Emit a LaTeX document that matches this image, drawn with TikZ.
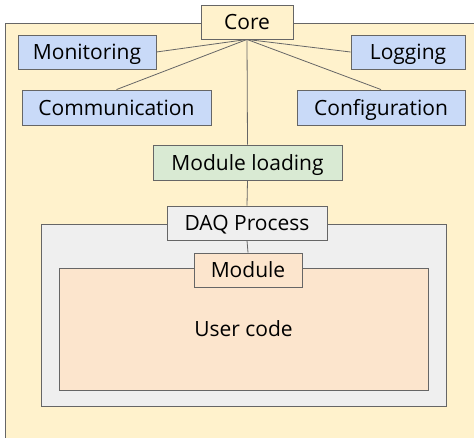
\documentclass[tikz,border=0pt]{standalone}
\usepackage{fontspec}
\setmainfont{Open Sans}
\usepackage{xcolor}
\definecolor{cLine}{HTML}{666666}
\definecolor{cCore}{HTML}{FFF2CC}
\definecolor{cServ}{HTML}{C9DAF8}
\definecolor{cLoad}{HTML}{D9EAD3}
\definecolor{cProc}{HTML}{EFEFEF}
\definecolor{cUser}{HTML}{FCE5CD}
\usetikzlibrary{positioning}
\tikzset{
  node-box/.style={draw=cLine,line width=0.9pt,inner sep=0pt,
    minimum height=34pt,text height=15pt,text depth=0pt,
    align=center,font=\fontsize{21}{25}\selectfont},
  node-core/.style={fill=cCore},
  node-serv/.style={fill=cServ},
  node-load/.style={fill=cLoad},
  node-proc/.style={fill=cProc},
  node-user/.style={fill=cUser},
  link/.style={draw=cLine,line width=0.8pt},
}

\begin{document}
\begin{tikzpicture}[x=1pt,y=-1pt]
  \useasboundingbox (0,0) rectangle (474,437);
  \clip (0,0) rectangle (474,437);
  % outer frame, runs off the right and bottom edge
  \draw[fill=cCore,draw=cLine,line width=0.9pt] (5,23) rectangle (490,460);
  % containers
  \node[node-box,node-proc,minimum width=405pt,minimum height=182pt] (proc) at (243.5,315) {};
  \node[node-box,node-user,minimum width=369pt,minimum height=122pt] (user) at (243.5,329) {User code};
  % nodes
  \node[node-box,node-core,minimum width=92pt]   (core) at (247,22)   {Core};
  \node[node-box,node-serv,minimum width=138pt]  (mon)  at (87,52)    {Monitoring};
  \node[node-box,node-serv,minimum width=114pt]  (log)  at (408,52)   {Logging};
  \node[node-box,node-serv,minimum width=189pt,minimum height=35pt] (com) at (116.5,107.5) {Communication};
  \node[node-box,node-serv,minimum width=168pt,minimum height=35pt] (cfg) at (381,107.5)  {Configuration};
  \node[node-box,node-load,minimum width=189pt,minimum height=35pt] (load) at (247.5,162.5) {Module loading};
  \node[node-box,node-proc,minimum width=160pt]  (daq)  at (247,223)  {DAQ Process};
  \node[node-box,node-user,minimum width=108pt]  (mod)  at (248,270)  {Module};
  \draw[link] (core.south) -- (mon.east);
  \draw[link] (core.south) -- (log.west);
  \draw[link] (core.south) -- (com.north);
  \draw[link] (core.south) -- (cfg.north);
  \draw[link] (core.south) -- (load.north);
  \draw[link] (load.south) -- (daq.north);
  \draw[link] (daq.south) -- (mod.north);
\end{tikzpicture}
\end{document}
